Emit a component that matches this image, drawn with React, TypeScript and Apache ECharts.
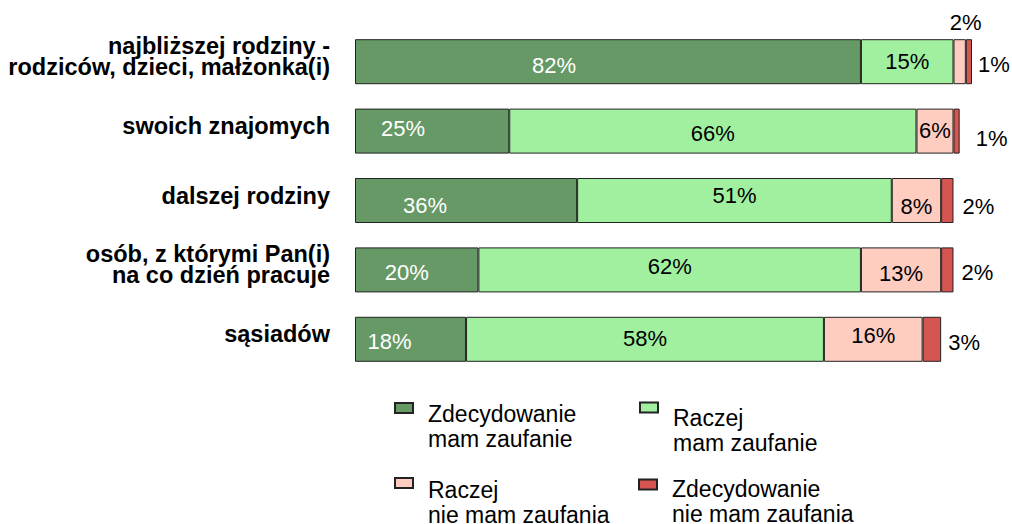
import React, { useEffect, useRef } from "react";
import * as echarts from "echarts";

const categories = [
  "najbliższej rodziny -\nrodziców, dzieci, małżonka(i)",
  "swoich znajomych",
  "dalszej rodziny",
  "osób, z którymi Pan(i)\nna co dzień pracuje",
  "sąsiadów",
];
const seriesNames = [
  "Zdecydowanie\nmam zaufanie",
  "Raczej\nmam zaufanie",
  "Raczej\nnie mam zaufania",
  "Zdecydowanie\nnie mam zaufania",
];
const zdecydowanieMam = [82, 25, 36, 20, 18];
const raczejMam = [15, 66, 51, 62, 58];
const raczejNieMam = [2, 6, 8, 13, 16];
const zdecydowanieNieMam = [1, 1, 2, 2, 3];

const colors = ["#669966", "#a0f0a0", "#ffccc0", "#d55550"];
const FONT = "'Liberation Sans', Arial, sans-serif";

// label nudges [dx, dy] per bar
const nudge1 = [[-54, 4], [-29, -3], [-41, 5], [-10, 3], [-21, 2]];
const nudge2 = [[0, 0], [0, 2], [0, -5], [0, -3], [0, -1]];
const nudge3 = [[6, 0], [0, -1], [0, 6], [0, 4], [0, -4]];
const nudge4 = [[0, 3], [10, 7], [3, 6], [2, 3], [1, 3]];

export default function App() {
  const ref = useRef<HTMLDivElement>(null);
  useEffect(() => {
    const chart = echarts.init(ref.current!, null, { renderer: "svg" });
    const values = [zdecydowanieMam, raczejMam, raczejNieMam, zdecydowanieNieMam];
    const nudges = [nudge1, nudge2, nudge3, nudge4];
    const series = values.map((vals, si) => ({
      type: "bar",
      name: seriesNames[si],
      stack: "total",
      barWidth: 45,
      itemStyle: { color: colors[si], borderColor: "#222", borderWidth: 1 },
      label: {
        show: true,
        formatter: "{c}%",
        fontFamily: FONT,
        fontSize: 22,
        color: si === 0 ? "#fff" : "#000",
        position: si === 3 ? "right" : "inside",
        distance: 6,
      },
      data: vals.map((v, i) => {
        const item: any = { value: v, label: { offset: nudges[si][i] } };
        if (si === 2 && i === 0) {
          item.label.position = "top";
          item.label.distance = 6;
        }
        return item;
      }),
    }));
    const legendPos = [
      { left: 394, top: 365, p: 36 },
      { left: 639, top: 359.5, p: 46 },
      { left: 394, top: 438.5, p: 39 },
      { left: 638, top: 442.5, p: 34 },
    ];
    const legends = seriesNames.map((n, i) => ({
      data: [n],
      left: legendPos[i].left,
      top: legendPos[i].top,
      padding: 0,
      icon: "rect",
      itemWidth: 18,
      itemHeight: 10,
      selectedMode: false,
      formatter: (name: string) => "{pad| }\n" + name,
      textStyle: {
        fontFamily: FONT,
        fontSize: 23,
        lineHeight: 25,
        color: "#000",
        padding: [0, 0, 0, 10],
        rich: { pad: { fontSize: 1, lineHeight: legendPos[i].p } },
      },
    }));
    chart.setOption({
      animation: false,
      backgroundColor: "#fff",
      grid: { left: 355, right: 40, top: 27, bottom: 150, containLabel: false },
      xAxis: { type: "value", min: 0, max: 100, show: false },
      yAxis: {
        type: "category",
        inverse: true,
        data: categories,
        axisLine: { show: false },
        axisTick: { show: false },
        axisLabel: {
          fontFamily: FONT,
          fontSize: 23.5,
          fontWeight: "bold",
          lineHeight: 21,
          color: "#000",
          margin: 25,
          formatter: (v: string) => v + "\n{pad| }",
          rich: { pad: { fontSize: 1, lineHeight: 10 } },
        },
      },
      legend: legends,
      series,
    });
    return () => chart.dispose();
  }, []);
  return (
    <div
      ref={ref}
      style={{ position: "fixed", left: 0, top: 0, width: 1012, height: 524 }}
    />
  );
}
